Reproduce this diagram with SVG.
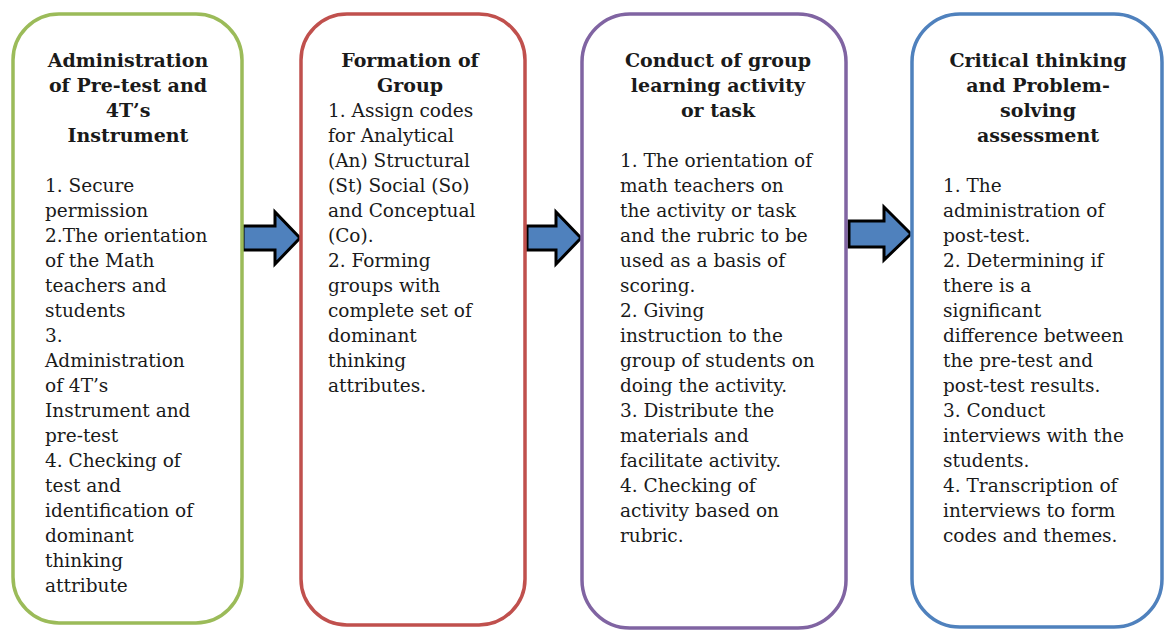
<svg xmlns="http://www.w3.org/2000/svg" width="1165" height="631" viewBox="0 0 1165 631">
<style>
.box{fill:#fff;stroke-width:3.5}
.t{font-family:"DejaVu Serif","Liberation Serif",serif;font-size:18.5px;fill:#1a1a1a}
.h{font-weight:bold;text-anchor:middle;font-size:19px}
.arr{fill:#4F81BD;stroke:#000;stroke-width:3;stroke-linejoin:miter}
</style>
<rect width="1165" height="631" fill="#fff"/>
<g id="connectors">
<path class="arr" d="M243,226 H275 V212 L300,238 L275,264 V250 H243 Z"/>
<path class="arr" d="M527,226 H556 V212 L581,238 L556,264 V250 H527 Z"/>
<path class="arr" d="M849,221 H884 V207 L911,234 L884,260 V247 H849 Z"/>
</g>
<g id="node1" transform="translate(0,1)">
<rect class="box" x="13" y="13" width="229" height="609" rx="46" stroke="#9BBB59"/>
<text class="t h"><tspan x="128" y="66">Administration</tspan><tspan x="128" y="91">of Pre-test and</tspan><tspan x="128" y="116">4T’s</tspan><tspan x="128" y="141">Instrument</tspan></text>
<text class="t"><tspan x="45" y="191">1. Secure</tspan><tspan x="45" y="216">permission</tspan><tspan x="45" y="241">2.The orientation</tspan><tspan x="45" y="266">of the Math</tspan><tspan x="45" y="291">teachers and</tspan><tspan x="45" y="316">students</tspan><tspan x="45" y="341">3.</tspan><tspan x="45" y="366">Administration</tspan><tspan x="45" y="391">of 4T’s</tspan><tspan x="45" y="416">Instrument and</tspan><tspan x="45" y="441">pre-test</tspan><tspan x="45" y="466">4. Checking of</tspan><tspan x="45" y="491">test and</tspan><tspan x="45" y="516">identification of</tspan><tspan x="45" y="541">dominant</tspan><tspan x="45" y="566">thinking</tspan><tspan x="45" y="591">attribute</tspan></text>
</g>
<g id="node2" transform="translate(0,1)">
<rect class="box" x="301" y="13" width="224" height="611" rx="46" stroke="#C0504D"/>
<text class="t h"><tspan x="410" y="66">Formation of</tspan><tspan x="410" y="91">Group</tspan></text>
<text class="t"><tspan x="328" y="116">1. Assign codes</tspan><tspan x="328" y="141">for Analytical</tspan><tspan x="328" y="166">(An) Structural</tspan><tspan x="328" y="191">(St) Social (So)</tspan><tspan x="328" y="216">and Conceptual</tspan><tspan x="328" y="241">(Co).</tspan><tspan x="328" y="266">2. Forming</tspan><tspan x="328" y="291">groups with</tspan><tspan x="328" y="316">complete set of</tspan><tspan x="328" y="341">dominant</tspan><tspan x="328" y="366">thinking</tspan><tspan x="328" y="391">attributes.</tspan></text>
</g>
<g id="node3" transform="translate(0,1)">
<rect class="box" x="582" y="13" width="264" height="614" rx="48" stroke="#8064A2"/>
<text class="t h"><tspan x="718" y="66">Conduct of group</tspan><tspan x="718" y="91">learning activity</tspan><tspan x="718" y="116">or task</tspan></text>
<text class="t"><tspan x="620" y="166">1. The orientation of</tspan><tspan x="620" y="191">math teachers on</tspan><tspan x="620" y="216">the activity or task</tspan><tspan x="620" y="241">and the rubric to be</tspan><tspan x="620" y="266">used as a basis of</tspan><tspan x="620" y="291">scoring.</tspan><tspan x="620" y="316">2. Giving</tspan><tspan x="620" y="341">instruction to the</tspan><tspan x="620" y="366">group of students on</tspan><tspan x="620" y="391">doing the activity.</tspan><tspan x="620" y="416">3. Distribute the</tspan><tspan x="620" y="441">materials and</tspan><tspan x="620" y="466">facilitate activity.</tspan><tspan x="620" y="491">4. Checking of</tspan><tspan x="620" y="516">activity based on</tspan><tspan x="620" y="541">rubric.</tspan></text>
</g>
<g id="node4" transform="translate(0,1)">
<rect class="box" x="912" y="13" width="250" height="613" rx="48" stroke="#4F81BD"/>
<text class="t h"><tspan x="1038" y="66">Critical thinking</tspan><tspan x="1038" y="91">and Problem-</tspan><tspan x="1038" y="116">solving</tspan><tspan x="1038" y="141">assessment</tspan></text>
<text class="t"><tspan x="943" y="191">1. The</tspan><tspan x="943" y="216">administration of</tspan><tspan x="943" y="241">post-test.</tspan><tspan x="943" y="266">2. Determining if</tspan><tspan x="943" y="291">there is a</tspan><tspan x="943" y="316">significant</tspan><tspan x="943" y="341">difference between</tspan><tspan x="943" y="366">the pre-test and</tspan><tspan x="943" y="391">post-test results.</tspan><tspan x="943" y="416">3. Conduct</tspan><tspan x="943" y="441">interviews with the</tspan><tspan x="943" y="466">students.</tspan><tspan x="943" y="491">4. Transcription of</tspan><tspan x="943" y="516">interviews to form</tspan><tspan x="943" y="541">codes and themes.</tspan></text>
</g>
</svg>
